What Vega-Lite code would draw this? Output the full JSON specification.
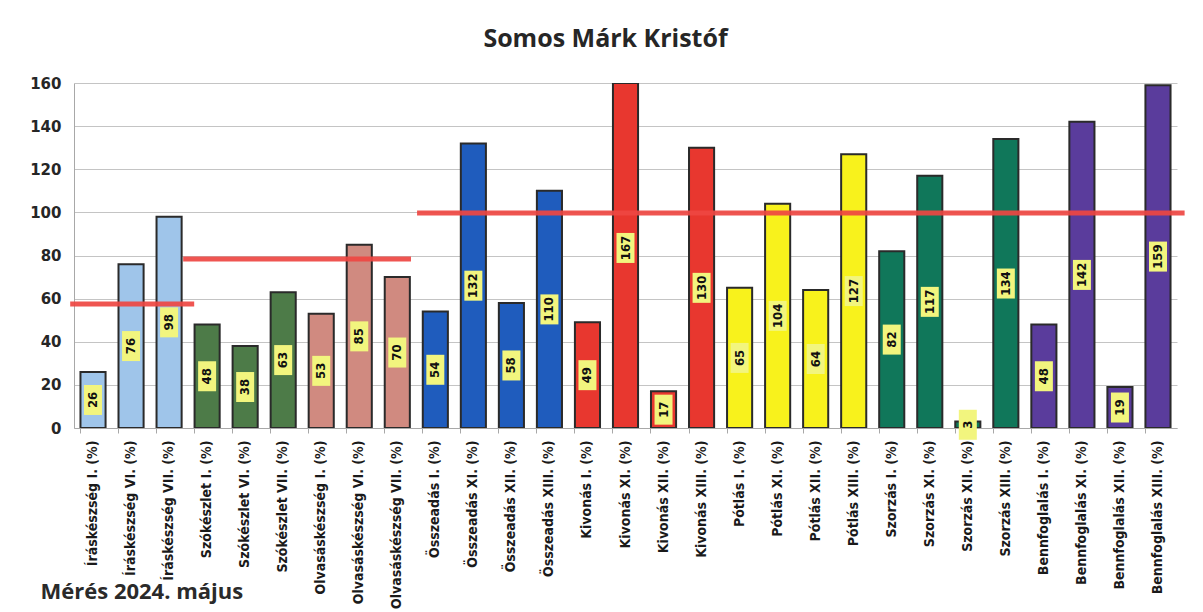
{
  "$schema": "https://vega.github.io/schema/vega-lite/v6.json",
  "autosize": "none",
  "width": 1103,
  "height": 345,
  "padding": {"left": 74, "top": 83, "right": 26, "bottom": 184},
  "background": "white",
  "title": {"text": "Somos Márk Kristóf", "font": "Open Sans", "fontSize": 25, "fontWeight": "bold", "color": "#262626", "anchor": "middle", "dx": -20, "offset": 24},
  "config": {"view": {"stroke": null}},
  "datasets": {
    "scores": [
      {"cat": "Íráskészség I. (%)", "group": "Íráskészség", "value": 26},
      {"cat": "Íráskészség VI. (%)", "group": "Íráskészség", "value": 76},
      {"cat": "Íráskészség VII. (%)", "group": "Íráskészség", "value": 98},
      {"cat": "Szókészlet I. (%)", "group": "Szókészlet", "value": 48},
      {"cat": "Szókészlet VI. (%)", "group": "Szókészlet", "value": 38},
      {"cat": "Szókészlet VII. (%)", "group": "Szókészlet", "value": 63},
      {"cat": "Olvasáskészség I. (%)", "group": "Olvasáskészség", "value": 53},
      {"cat": "Olvasáskészség VI. (%)", "group": "Olvasáskészség", "value": 85},
      {"cat": "Olvasáskészség VII. (%)", "group": "Olvasáskészség", "value": 70},
      {"cat": "Összeadás I. (%)", "group": "Összeadás", "value": 54},
      {"cat": "Összeadás XI. (%)", "group": "Összeadás", "value": 132},
      {"cat": "Összeadás XII. (%)", "group": "Összeadás", "value": 58},
      {"cat": "Összeadás XIII. (%)", "group": "Összeadás", "value": 110},
      {"cat": "Kivonás I. (%)", "group": "Kivonás", "value": 49},
      {"cat": "Kivonás XI. (%)", "group": "Kivonás", "value": 167},
      {"cat": "Kivonás XII. (%)", "group": "Kivonás", "value": 17},
      {"cat": "Kivonás XIII. (%)", "group": "Kivonás", "value": 130},
      {"cat": "Pótlás I. (%)", "group": "Pótlás", "value": 65},
      {"cat": "Pótlás XI. (%)", "group": "Pótlás", "value": 104},
      {"cat": "Pótlás XII. (%)", "group": "Pótlás", "value": 64},
      {"cat": "Pótlás XIII. (%)", "group": "Pótlás", "value": 127},
      {"cat": "Szorzás I. (%)", "group": "Szorzás", "value": 82},
      {"cat": "Szorzás XI. (%)", "group": "Szorzás", "value": 117},
      {"cat": "Szorzás XII. (%)", "group": "Szorzás", "value": 3},
      {"cat": "Szorzás XIII. (%)", "group": "Szorzás", "value": 134},
      {"cat": "Bennfoglalás I. (%)", "group": "Bennfoglalás", "value": 48},
      {"cat": "Bennfoglalás XI. (%)", "group": "Bennfoglalás", "value": 142},
      {"cat": "Bennfoglalás XII. (%)", "group": "Bennfoglalás", "value": 19},
      {"cat": "Bennfoglalás XIII. (%)", "group": "Bennfoglalás", "value": 159}
    ],
    "refs": [
      {"start": -0.1, "end": 3.16, "level": 57.5},
      {"start": 2.87, "end": 8.86, "level": 78.4},
      {"start": 9.02, "end": 29.2, "level": 99.7}
    ]
  },
  "resolve": {"scale": {"x": "independent", "y": "independent"}, "axis": {"x": "independent", "y": "independent"}},
  "layer": [
    {
      "data": {"name": "scores"},
      "mark": {"type": "bar", "stroke": "#2a2a2a", "strokeWidth": 2, "clip": true},
      "encoding": {
        "x": {
          "field": "cat", "type": "nominal", "sort": null,
          "scale": {"paddingInner": 0.34, "paddingOuter": 0.17},
          "axis": {
            "title": "Mérés 2024. május",
            "titleX": -34, "titleY": 170, "titleAlign": "left", "titleBaseline": "alphabetic", "titleAnchor": null,
            "titleFont": "Open Sans", "titleFontSize": 22, "titleFontWeight": "bold", "titleColor": "#2a2a2a",
            "labelAngle": -90, "labelAlign": "right", "labelBaseline": "middle",
            "labelFont": "DejaVu Sans Condensed, Roboto Condensed, Roboto, sans-serif", "labelFontSize": 14, "labelFontWeight": "bold", "labelColor": "#1a1a1a",
            "labelPadding": 7, "labelLimit": 0,
            "bandPosition": 0, "ticks": true, "tickSize": 5, "tickColor": "#a8a8a8",
            "domain": true, "domainColor": "#a8a8a8", "grid": false
          }
        },
        "y": {
          "field": "value", "type": "quantitative",
          "scale": {"domain": [0, 160], "nice": false, "clamp": true},
          "axis": {
            "title": null, "values": [0, 20, 40, 60, 80, 100, 120, 140, 160],
            "labelFont": "DejaVu Sans", "labelFontSize": 15, "labelFontWeight": "bold", "labelColor": "#262626",
            "labelPadding": 13, "ticks": false,
            "domain": true, "domainColor": "#a8a8a8",
            "grid": true, "gridColor": "#c4c4c4", "gridWidth": 1
          }
        },
        "color": {
          "field": "group", "type": "nominal", "legend": null,
          "scale": {
            "domain": ["Íráskészség", "Szókészlet", "Olvasáskészség", "Összeadás", "Kivonás", "Pótlás", "Szorzás", "Bennfoglalás"],
            "range": ["#9fc5ea", "#4d7b48", "#d08a80", "#1f5cbd", "#e8372f", "#f8f21c", "#10775a", "#5a3c9c"]
          }
        }
      }
    },
    {
      "data": {"name": "scores"},
      "mark": {"type": "point", "shape": "M-0.6,-1L0.6,-1L0.6,1L-0.6,1Z", "filled": true, "size": 900, "color": "#f2f57e", "opacity": 1},
      "encoding": {
        "x": {"field": "cat", "type": "nominal", "sort": null, "scale": {"paddingInner": 0.34, "paddingOuter": 0.17}, "axis": null},
        "y": {"field": "value", "type": "quantitative", "scale": {"domain": [0, 320], "nice": false}, "axis": null}
      }
    },
    {
      "data": {"name": "scores"},
      "mark": {"type": "text", "angle": 270, "align": "center", "baseline": "middle", "font": "DejaVu Sans Condensed, Roboto Condensed, Roboto, sans-serif", "fontSize": 13, "fontWeight": "bold", "color": "#111111"},
      "encoding": {
        "x": {"field": "cat", "type": "nominal", "sort": null, "scale": {"paddingInner": 0.34, "paddingOuter": 0.17}, "axis": null},
        "y": {"field": "value", "type": "quantitative", "scale": {"domain": [0, 320], "nice": false}, "axis": null},
        "text": {"field": "value", "type": "quantitative"}
      }
    },
    {
      "data": {"name": "refs"},
      "mark": {"type": "rule", "color": "#ee4742", "strokeWidth": 5, "opacity": 0.92, "clip": false},
      "encoding": {
        "x": {"field": "start", "type": "quantitative", "scale": {"domain": [0, 29], "nice": false, "zero": false}, "axis": null},
        "x2": {"field": "end"},
        "y": {"field": "level", "type": "quantitative", "scale": {"domain": [0, 160], "nice": false}, "axis": null}
      }
    }
  ]
}
